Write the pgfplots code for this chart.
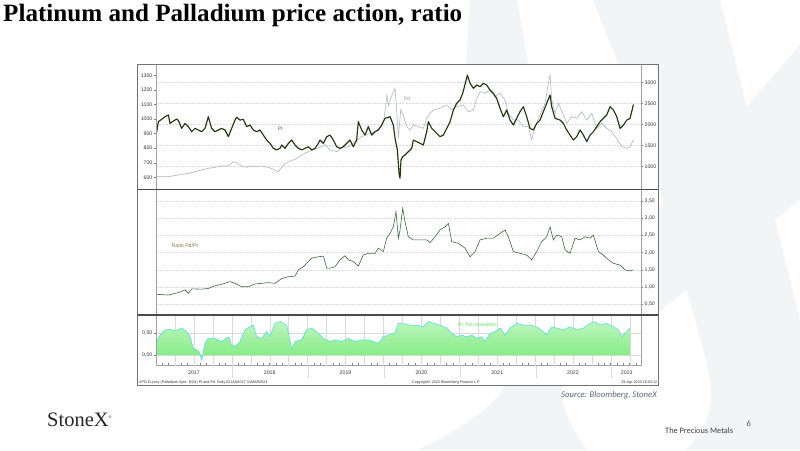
\documentclass[border=0pt]{standalone}
\usepackage{fontspec}
\setmainfont{Liberation Sans}
\newfontfamily\titlefont{Liberation Serif}
\newfontfamily\calfont{Carlito}
\usepackage{graphicx}
\usepackage{pgfplots}
\pgfplotsset{compat=1.18}
\usepackage{pgfplotstable}

\definecolor{ptc}{HTML}{1E3A0C}
\definecolor{pdc}{HTML}{B0B5BF}
\definecolor{ratc}{HTML}{3C6B3C}
\definecolor{gridc}{HTML}{DADADA}
\definecolor{axc}{HTML}{A0A0A0}
\definecolor{sepc}{HTML}{4A4A4A}
\definecolor{tickc}{HTML}{3A3A3A}
\definecolor{wm}{HTML}{F3F4F6}
\definecolor{corrtop}{HTML}{BDF5BD}
\definecolor{corrbot}{HTML}{7EEB7E}
\definecolor{corrline}{HTML}{3FE3E0}
\definecolor{srcc}{HTML}{5B6785}
\definecolor{ratlab}{HTML}{857B3C}
\definecolor{corrlab}{HTML}{5FE05F}

\pgfplotstableread{
t v
2017.009 913
2017.031 982
2017.075 998
2017.119 1016
2017.163 1028
2017.185 970
2017.215 982
2017.273 1000
2017.295 990
2017.339 936
2017.383 970
2017.427 948
2017.471 913
2017.515 936
2017.558 925
2017.602 913
2017.646 936
2017.690 1016
2017.734 936
2017.778 913
2017.822 925
2017.866 936
2017.910 925
2017.954 879
2017.998 936
2018.042 993
2018.064 1012
2018.108 993
2018.152 998
2018.196 948
2018.240 959
2018.284 925
2018.328 913
2018.372 925
2018.416 890
2018.460 856
2018.504 833
2018.548 799
2018.592 788
2018.636 799
2018.658 822
2018.702 799
2018.746 833
2018.790 856
2018.834 822
2018.878 799
2018.922 788
2018.966 799
2019.010 810
2019.054 788
2019.098 799
2019.142 833
2019.164 856
2019.208 833
2019.252 879
2019.296 890
2019.339 856
2019.383 810
2019.427 799
2019.471 810
2019.515 833
2019.559 856
2019.603 810
2019.647 856
2019.669 982
2019.713 925
2019.757 890
2019.801 948
2019.845 890
2019.889 913
2019.933 925
2019.977 959
2020.021 1005
2020.087 1016
2020.131 959
2020.153 868
2020.184 788
2020.206 627
2020.219 593
2020.232 719
2020.254 742
2020.285 753
2020.329 776
2020.373 799
2020.395 856
2020.439 845
2020.483 833
2020.527 822
2020.571 913
2020.593 982
2020.637 936
2020.681 913
2020.747 879
2020.791 890
2020.835 936
2020.879 982
2020.923 1062
2020.967 1108
2021.011 1131
2021.046 1176
2021.108 1302
2021.143 1245
2021.187 1211
2021.231 1234
2021.274 1222
2021.318 1245
2021.362 1234
2021.406 1199
2021.450 1176
2021.494 1142
2021.538 1074
2021.582 1016
2021.626 1062
2021.670 993
2021.714 959
2021.758 1005
2021.802 1051
2021.846 1085
2021.890 1016
2021.934 936
2021.978 925
2022.022 970
2022.066 993
2022.110 1051
2022.154 1108
2022.198 1165
2022.220 1085
2022.264 1005
2022.330 993
2022.374 970
2022.418 925
2022.462 890
2022.506 856
2022.550 879
2022.594 925
2022.638 890
2022.682 845
2022.726 890
2022.770 913
2022.814 948
2022.858 982
2022.902 1005
2022.946 1028
2022.990 1085
2023.034 1062
2023.078 1016
2023.122 936
2023.166 959
2023.210 993
2023.254 1005
2023.298 1100
}\ptdata

\pgfplotstableread{
t v
2017.009 753
2017.163 753
2017.295 793
2017.427 833
2017.602 912
2017.690 952
2017.778 976
2017.866 1008
2017.954 1008
2018.020 1112
2018.064 1088
2018.130 1008
2018.196 976
2018.262 1008
2018.328 992
2018.394 1008
2018.482 976
2018.570 912
2018.614 873
2018.680 1032
2018.746 1112
2018.834 1167
2018.922 1271
2019.010 1351
2019.098 1406
2019.186 1470
2019.230 1520
2019.296 1390
2019.383 1351
2019.449 1430
2019.537 1470
2019.625 1590
2019.713 1709
2019.801 1773
2019.889 1829
2019.977 1948
2020.005 2100
2020.030 2450
2020.045 2705
2020.065 2450
2020.100 2650
2020.153 2865
2020.175 2347
2020.197 1669
2020.228 2347
2020.263 2227
2020.307 1948
2020.351 1869
2020.395 1988
2020.461 1948
2020.527 1908
2020.571 2147
2020.615 2267
2020.659 2347
2020.747 2386
2020.835 2466
2020.901 2347
2020.967 2426
2021.055 2466
2021.121 2307
2021.187 2347
2021.231 2625
2021.274 2785
2021.340 2745
2021.406 2825
2021.472 2665
2021.538 2745
2021.604 2586
2021.648 2267
2021.714 2108
2021.780 2108
2021.846 1948
2021.912 1948
2021.956 1629
2022.000 1948
2022.066 2227
2022.132 2506
2022.176 2984
2022.198 3183
2022.220 2586
2022.264 2267
2022.308 2506
2022.374 2227
2022.418 2028
2022.484 2187
2022.550 2147
2022.616 2307
2022.682 2108
2022.748 2267
2022.814 1908
2022.880 2028
2022.946 1908
2023.011 1829
2023.077 1669
2023.143 1470
2023.210 1430
2023.254 1470
2023.298 1629
}\pddata

\pgfplotstableread{
t v
2017.009 0.79
2017.163 0.77
2017.295 0.84
2017.383 0.92
2017.427 0.82
2017.471 0.95
2017.602 0.94
2017.690 0.96
2017.778 1.04
2017.866 1.08
2017.976 1.16
2018.042 1.11
2018.130 1.01
2018.218 1.01
2018.306 1.09
2018.394 1.11
2018.482 1.13
2018.570 1.11
2018.658 1.25
2018.746 1.30
2018.834 1.32
2018.878 1.50
2018.944 1.59
2019.010 1.74
2019.054 1.84
2019.142 1.88
2019.208 1.90
2019.252 1.55
2019.296 1.55
2019.361 1.59
2019.427 1.79
2019.493 1.91
2019.537 1.79
2019.603 1.74
2019.669 1.61
2019.735 1.93
2019.801 1.98
2019.889 1.98
2019.933 2.13
2019.999 2.03
2020.043 2.42
2020.087 2.56
2020.131 2.75
2020.166 3.19
2020.197 2.42
2020.219 2.66
2020.254 3.29
2020.285 2.90
2020.329 2.46
2020.395 2.37
2020.483 2.37
2020.571 2.37
2020.615 2.29
2020.681 2.46
2020.747 2.66
2020.813 2.75
2020.857 2.85
2020.901 2.32
2020.989 2.27
2021.077 2.13
2021.143 1.88
2021.209 2.03
2021.274 2.37
2021.362 2.42
2021.450 2.42
2021.538 2.56
2021.604 2.66
2021.648 2.46
2021.714 2.03
2021.802 1.98
2021.890 1.93
2021.956 1.79
2022.022 2.03
2022.088 2.32
2022.154 2.46
2022.198 2.75
2022.242 2.37
2022.286 2.51
2022.352 2.46
2022.396 2.08
2022.462 1.98
2022.528 2.42
2022.594 2.37
2022.660 2.46
2022.726 2.42
2022.770 2.51
2022.836 2.03
2022.902 1.93
2022.968 1.79
2023.034 1.69
2023.122 1.64
2023.188 1.50
2023.254 1.47
2023.298 1.50
}\ratdata

\pgfplotstableread{
t v
2017.009 0.31
2017.053 0.46
2017.119 0.58
2017.185 0.59
2017.251 0.56
2017.339 0.62
2017.405 0.54
2017.449 0.42
2017.493 0.15
2017.536 0.12
2017.580 0.04
2017.602 -0.12
2017.646 0.27
2017.690 0.38
2017.778 0.38
2017.866 0.31
2017.954 0.42
2017.998 0.23
2018.042 0.19
2018.108 0.31
2018.174 0.58
2018.240 0.65
2018.284 0.69
2018.328 0.42
2018.394 0.38
2018.460 0.54
2018.504 0.42
2018.570 0.73
2018.636 0.77
2018.724 0.69
2018.790 0.15
2018.834 0.31
2018.922 0.35
2018.988 0.58
2019.054 0.62
2019.142 0.50
2019.208 0.38
2019.296 0.31
2019.361 0.35
2019.449 0.31
2019.537 0.38
2019.625 0.31
2019.713 0.35
2019.801 0.35
2019.867 0.31
2019.933 0.27
2019.999 0.42
2020.065 0.46
2020.153 0.50
2020.198 0.73
2020.263 0.72
2020.351 0.69
2020.439 0.69
2020.527 0.65
2020.593 0.77
2020.659 0.73
2020.747 0.69
2020.835 0.62
2020.901 0.50
2020.967 0.42
2021.033 0.46
2021.099 0.42
2021.165 0.46
2021.231 0.38
2021.297 0.42
2021.341 0.31
2021.407 0.50
2021.473 0.54
2021.539 0.62
2021.605 0.46
2021.671 0.62
2021.759 0.73
2021.847 0.69
2021.934 0.69
2022.022 0.65
2022.110 0.54
2022.154 0.46
2022.220 0.65
2022.286 0.62
2022.374 0.58
2022.462 0.65
2022.550 0.58
2022.638 0.62
2022.726 0.73
2022.792 0.77
2022.858 0.69
2022.946 0.73
2023.034 0.65
2023.100 0.58
2023.144 0.42
2023.188 0.50
2023.254 0.62
}\corrdata

\pgfplotsset{
  panel/.style={scale only axis, width=485pt, xmin=2017, xmax=2023.398,
    axis line style={axc, line width=0.5pt},
    every tick/.style={axc!80!black, line width=0.4pt},
    tick label style={font=\fontsize{5.2}{6}\selectfont, text=tickc},
    /pgf/number format/assume math mode=true,
    /pgf/number format/1000 sep={}},
  dgrid/.style={major grid style={gridc, dash pattern=on 2pt off 1.2pt, line width=0.4pt}},
}

\begin{document}
\begin{tikzpicture}
\path[use as bounding box] (0,0) rectangle (800pt,450pt);
\fill[white] (0,0) rectangle (800pt,450pt);
\begin{scope}[x=1pt,y=1pt,shift={(0,450pt)},yscale=-1]
  % watermark
  \fill[wm] (593,0) -- (720,0) -- (800,320) -- (800,450) -- (685,450) .. controls (712,425) and (716,400) .. (706,360) -- (640,120) -- cycle;
  \fill[wm] (800,45) -- (800,200) -- (560,390) .. controls (565,415) and (575,435) .. (587,450) -- (418,450) .. controls (470,425) and (500,400) .. (505,385) -- cycle;
  \fill[wm] (470,0) -- (517,0) -- (528,64) -- (466,64) -- cycle;
  % chart box
  \fill[white] (137,64) rectangle (658,385);
\end{scope}

% top panel: palladium (right axis)
\begin{axis}[panel, dgrid, at={(156pt,261.5pt)}, anchor=south west, height=124.5pt,
  ymin=470, ymax=3446, axis y line*=right, axis x line=none, xtick=\empty,
  ytick={1000,1500,2000,2500,3000}, ymajorgrids,
  ytick align=outside, major tick length=2.5pt,
  yticklabel style={inner sep=1pt}]
\addplot[pdc, line width=0.6pt] table[x=t,y=v] {\pddata};
\node[font=\fontsize{5}{6}\selectfont, text=pdc!85!black] at (axis cs:2020.31,2609) {Pd};
\end{axis}

% top panel: platinum (left axis)
\begin{axis}[panel, at={(156pt,261.5pt)}, anchor=south west, height=124.5pt,
  ymin=523.3, ymax=1377.8, axis y line*=left, axis x line=none, xtick=\empty,
  ytick={600,700,800,900,1000,1100,1200,1300},
  ytick align=outside, major tick length=2.5pt,
  yticklabel style={inner sep=1pt}]
\addplot[ptc, line width=1.15pt, line join=round] table[x=t,y=v] {\ptdata};
\node[font=\fontsize{5}{6}\selectfont, text=black!65] at (axis cs:2018.64,932) {Pt};
\end{axis}

% middle panel: ratio
\begin{axis}[panel, dgrid, at={(156pt,136pt)}, anchor=south west, height=123pt,
  ymin=0.219, ymax=3.79, axis y line*=right, axis x line=none, xtick=\empty,
  ytick={0.5,1,1.5,2,2.5,3,3.5}, ymajorgrids,
  ytick align=outside, major tick length=2.5pt,
  yticklabel style={inner sep=1pt, /pgf/number format/.cd, fixed, fixed zerofill, precision=2, use comma}]
\addplot[ratc, line width=0.6pt] table[x=t,y=v] {\ratdata};
\end{axis}

% bottom panel: correlation
\begin{axis}[panel, at={(156pt,84.5pt)}, anchor=south west, height=50pt,
  ymin=-0.242, ymax=0.911, axis y line*=left, axis x line*=bottom,
  ytick={0,0.5}, ymajorgrids,
  major grid style={gridc, line width=0.4pt},
  ytick align=outside, major tick length=2.5pt,
  yticklabel style={inner sep=1pt, /pgf/number format/.cd, fixed, fixed zerofill, precision=2, use comma},
  xtick={2017.5,2018.5,2019.5,2020.5,2021.5,2022.5,2023.21},
  xticklabels={2017,2018,2019,2020,2021,2022,2023},
  major x tick style={draw=none},
  minor xtick={2017,2017.08333,...,2023.36},
  minor tick length=2pt,
  extra x ticks={2017.25,2017.5,...,2023.25},
  extra x tick labels={},
  extra x tick style={grid=major},
  xticklabel style={yshift=-1.5pt}]
\addplot[draw=none, top color=corrtop, bottom color=corrbot] table[x=t,y=v] {\corrdata} \closedcycle;
\addplot[corrline, line width=0.5pt] table[x=t,y=v] {\corrdata};
\end{axis}

\begin{scope}[x=1pt,y=1pt,shift={(0,450pt)},yscale=-1]
  % axis lines and separators
  \draw[axc, line width=0.5pt] (156,64) -- (156,365.5);
  \draw[axc, line width=0.5pt] (641,64) -- (641,365.5);
  \draw[sepc, line width=1.5pt] (137,189.5) -- (658,189.5);
  \draw[sepc, line width=1.5pt] (137,314.8) -- (658,314.8);
  \draw[black!55, line width=0.8pt] (137,64) rectangle (658,385);
  \foreach \xx in {232,308,384,460,536,611} \draw[gridc, line width=0.5pt] (\xx,366) -- (\xx,378);
  % panel labels
  \node[anchor=west, inner sep=0, font=\fontsize{5.2}{6}\selectfont, text=ratlab] at (171.5,246) {Ratio Pd/Pt};
  \node[anchor=west, inner sep=0, font=\fontsize{5}{6}\selectfont, text=corrlab] at (458,325) {Pt, Pd correlation};
  % bloomberg footer
  \node[anchor=base west, inner sep=0, font=\fontsize{3.7}{4}\selectfont, text=black!80] at (139,383) {XPD Curncy (Palladium Spot \ \$/Oz) Pt and Pd \ Daily 02JAN2017-31MAR2023};
  \node[anchor=base west, inner sep=0, font=\fontsize{3.7}{4}\selectfont, text=black!80] at (412,383) {Copyright\textcopyright\ 2023 Bloomberg Finance L.P.};
  \node[anchor=base east, inner sep=0, font=\fontsize{3.7}{4}\selectfont, text=black!80] at (657.5,383) {29-Apr-2023 16:03:12};
  % title
  \node[anchor=base west, inner sep=0] at (3,21.7) {\resizebox{459pt}{17.3pt}{\titlefont\bfseries Platinum and Palladium price action, ratio}};
  % source and footer
  \node[anchor=base west, inner sep=0, text=srcc] at (561,397.5) {\calfont\itshape\fontsize{8.7}{10}\selectfont Source: Bloomberg, StoneX};
  \node[anchor=base west, inner sep=0, text=black!75] at (665,433) {\calfont\fontsize{8.3}{10}\selectfont The Precious Metals};
  \node[anchor=base west, inner sep=0, text=black!65] at (746.5,426.5) {\calfont\fontsize{8.5}{10}\selectfont 6};
  \node[anchor=base west, inner sep=0, text=black!85] at (47,426) {\titlefont\fontsize{20.5}{22}\selectfont StoneX\raisebox{8pt}{\fontsize{4}{4}\selectfont\textregistered}};
\end{scope}
\end{tikzpicture}
\end{document}
